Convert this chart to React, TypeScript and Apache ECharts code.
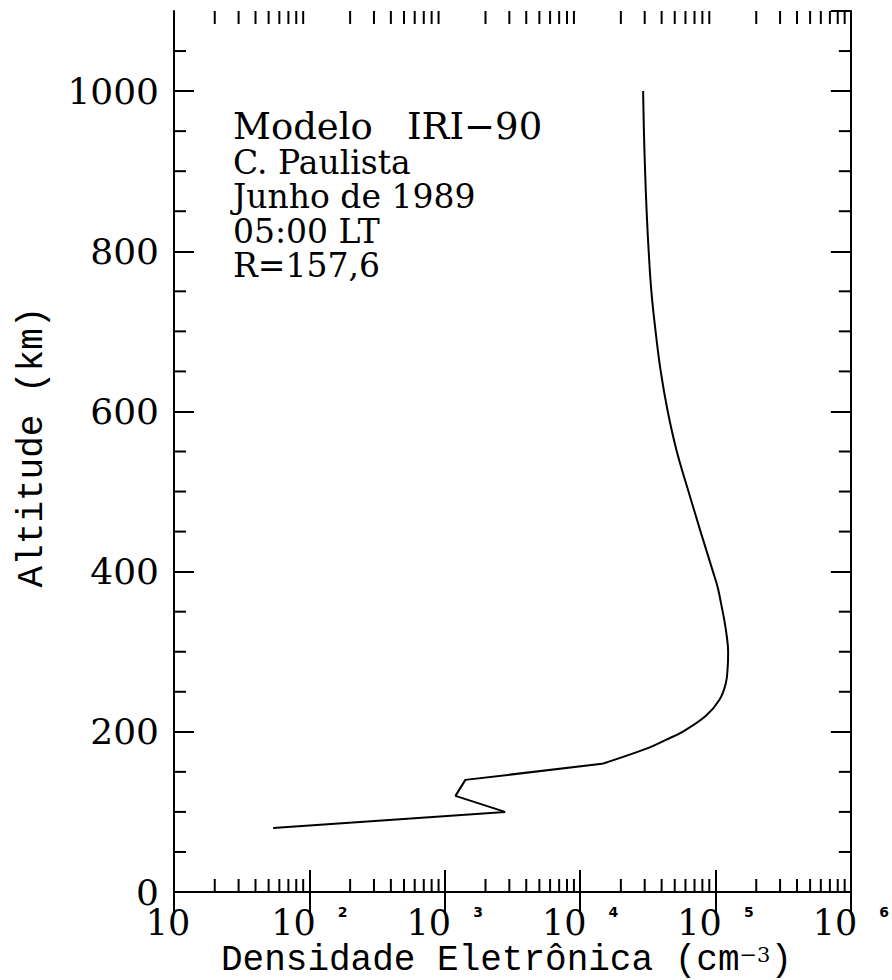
import React, { useEffect, useRef } from "react";
import * as echarts from "echarts";

// IRI-90 electron density profile, Cachoeira Paulista, June 1989, 05:00 LT
const altitudeKm = [
  80, 100, 120, 140, 160, 180, 190, 200, 220, 240, 260, 280, 300, 320, 340,
  360, 380, 400, 450, 500, 550, 600, 650, 700, 750, 800, 850, 900, 950, 1000,
];
const densityCm3 = [
  54, 2790, 1200, 1420, 14500, 32000, 43000, 57000, 85000, 107000, 119000,
  123000, 124000, 121000, 116000, 110000, 104000, 95800, 77600, 63200, 51800,
  44400, 39400, 36100, 33600, 32100, 31000, 30200, 29600, 29200,
];
// the E-region part (up to 160 km) is drawn with straight segments,
// the F-region part above it as a smooth curve
const eRegionTopKm = 160;

const densityMin = 10;
const densityMax = 1e6;
const altitudeMin = 0;
const altitudeMax = 1100;
const altitudeStep = 200;
const altitudeMinorStep = 50;

const titleLine = ["Modelo", "IRI\u221290"];
const annotationLines = ["C. Paulista", "Junho de 1989", "05:00 LT", "R=157,6"];
const xAxisTitle = "Densidade Eletr\u00f4nica (cm";
const xAxisTitleExp = "\u22123";
const yAxisTitle = "Altitude (km)";

// minor ticks of the log axis: 2..9 within every decade
const densityMinorTicks: number[] = [];
for (let e = 1; e < 6; e++) {
  for (let m = 2; m <= 9; m++) densityMinorTicks.push(m * Math.pow(10, e));
}
// minor ticks of the altitude axis: every 50 km between labelled values
const altitudeMinorTicks: number[] = [];
for (let h = altitudeMinorStep; h < altitudeMax; h += altitudeMinorStep) {
  if (h % altitudeStep !== 0) altitudeMinorTicks.push(h);
}

const SERIF = '"DejaVu Serif", serif';
const MONO = '"Liberation Mono", monospace';

export default function App() {
  const ref = useRef<HTMLDivElement>(null);

  useEffect(() => {
    if (!ref.current) return;
    const chart = echarts.init(ref.current, undefined, { renderer: "svg" });

    const tickStyle = { stroke: "#000", lineWidth: 2 };
    const profile = altitudeKm.map((h, i) => [densityCm3[i], h]);
    const splitIdx = altitudeKm.indexOf(eRegionTopKm);
    const lowerPart = profile.slice(0, splitIdx + 1);
    const upperPart = profile.slice(splitIdx);

    const axisLine = { show: true, lineStyle: { color: "#000", width: 2 } };

    const option: any = {
      animation: false,
      backgroundColor: "#fff",
      grid: { left: 174, right: 40, top: 11, bottom: 88, containLabel: false },
      xAxis: [
        {
          type: "log",
          logBase: 10,
          min: densityMin,
          max: densityMax,
          position: "bottom",
          axisLine,
          axisTick: { show: true, inside: true, length: 22, lineStyle: { color: "#000", width: 2 } },
          splitLine: { show: false },
          axisLabel: {
            show: true,
            margin: 13,
            color: "#000",
            formatter: (v: number) => {
              const e = Math.round(Math.log10(v));
              return e === 1 ? "{b|10}{g|}" : `{b|10}{s|${e}}`;
            },
            rich: {
              b: { fontFamily: SERIF, fontSize: 35, color: "#000", lineHeight: 36 },
              g: { width: 12 },
              s: {
                fontFamily: '"DejaVu Sans", sans-serif',
                fontWeight: "bold",
                fontSize: 14,
                lineHeight: 14,
                color: "#000",
                verticalAlign: "top",
                padding: [0, 0, 0, 22],
              },
            },
          },
        },
        {
          type: "log",
          logBase: 10,
          min: densityMin,
          max: densityMax,
          position: "top",
          axisLine,
          axisTick: { show: true, inside: true, length: 22, lineStyle: { color: "#000", width: 2 } },
          splitLine: { show: false },
          axisLabel: { show: false },
        },
      ],
      yAxis: [
        {
          type: "value",
          min: altitudeMin,
          max: altitudeMax,
          interval: altitudeStep,
          position: "left",
          axisLine,
          axisTick: { show: true, inside: true, length: 20, lineStyle: { color: "#000", width: 2 } },
          splitLine: { show: false },
          axisLabel: {
            show: true,
            margin: 15,
            color: "#000",
            fontFamily: SERIF,
            fontSize: 36,
            showMaxLabel: false,
            formatter: (v: number) => String(v),
          },
        },
        {
          type: "value",
          min: altitudeMin,
          max: altitudeMax,
          interval: altitudeStep,
          position: "right",
          axisLine,
          axisTick: { show: true, inside: true, length: 20, lineStyle: { color: "#000", width: 2 } },
          splitLine: { show: false },
          axisLabel: { show: false },
        },
      ],
      series: [
        {
          type: "line",
          xAxisIndex: 0,
          yAxisIndex: 0,
          data: lowerPart,
          showSymbol: false,
          symbol: "none",
          smooth: false,
          lineStyle: { color: "#000", width: 2 },
          silent: true,
        },
        {
          type: "line",
          xAxisIndex: 0,
          yAxisIndex: 0,
          data: upperPart,
          showSymbol: false,
          symbol: "none",
          smooth: 0.4,
          lineStyle: { color: "#000", width: 2 },
          silent: true,
        },
        {
          // minor ticks on the bottom and top edges
          type: "custom",
          xAxisIndex: 0,
          yAxisIndex: 0,
          silent: true,
          clip: false,
          data: densityMinorTicks.map((v) => [v, altitudeMin]),
          renderItem: (params: any, api: any) => {
            const cs = params.coordSys;
            const x = api.coord([api.value(0), api.value(1)])[0];
            const y0 = cs.y;
            const y1 = cs.y + cs.height;
            return {
              type: "group",
              children: [
                { type: "line", shape: { x1: x, y1: y1, x2: x, y2: y1 - 13 }, style: tickStyle },
                { type: "line", shape: { x1: x, y1: y0, x2: x, y2: y0 + 13 }, style: tickStyle },
              ],
            };
          },
        },
        {
          // minor ticks on the left and right edges
          type: "custom",
          xAxisIndex: 0,
          yAxisIndex: 0,
          silent: true,
          clip: false,
          data: altitudeMinorTicks.map((h) => [densityMin, h]),
          renderItem: (params: any, api: any) => {
            const cs = params.coordSys;
            const y = api.coord([api.value(0), api.value(1)])[1];
            const x0 = cs.x;
            const x1 = cs.x + cs.width;
            return {
              type: "group",
              children: [
                { type: "line", shape: { x1: x0, y1: y, x2: x0 + 12, y2: y }, style: tickStyle },
                { type: "line", shape: { x1: x1, y1: y, x2: x1 - 12, y2: y }, style: tickStyle },
              ],
            };
          },
        },
      ],
      graphic: [
        {
          type: "text",
          x: 233,
          y: 126,
          silent: true,
          style: { text: titleLine[0], font: `37px ${SERIF}`, lineHeight: 32, fill: "#000", verticalAlign: "middle" },
        },
        {
          type: "text",
          x: 407,
          y: 126,
          silent: true,
          style: { text: titleLine[1], font: `37px ${SERIF}`, lineHeight: 32, fill: "#000", verticalAlign: "middle" },
        },
        ...annotationLines.map((t, i) => ({
          type: "text",
          x: 233,
          y: 162 + i * 34.5,
          silent: true,
          style: { text: t, font: `33px ${SERIF}`, lineHeight: 32, fill: "#000", verticalAlign: "middle" },
        })),
        {
          type: "text",
          x: 221,
          y: 960,
          silent: true,
          style: {
            text: `{a|${xAxisTitle}}{s|${xAxisTitleExp}}{a|)}`,
            verticalAlign: "middle",
            rich: {
              a: { fontFamily: MONO, fontSize: 36, lineHeight: 32, fill: "#000", color: "#000" },
              s: { fontFamily: SERIF, fontSize: 21, lineHeight: 21, fill: "#000", color: "#000", verticalAlign: "top" },
            },
          },
        },
        {
          type: "text",
          x: 32,
          y: 447,
          rotation: Math.PI / 2,
          silent: true,
          style: {
            text: yAxisTitle,
            font: `36px ${MONO}`,
            lineHeight: 32,
            fill: "#000",
            align: "center",
            verticalAlign: "middle",
          },
        },
      ],
    };

    chart.setOption(option);
    return () => chart.dispose();
  }, []);

  return (
    <div
      ref={ref}
      style={{ position: "absolute", left: 0, top: 0, width: 892, height: 980 }}
    />
  );
}
